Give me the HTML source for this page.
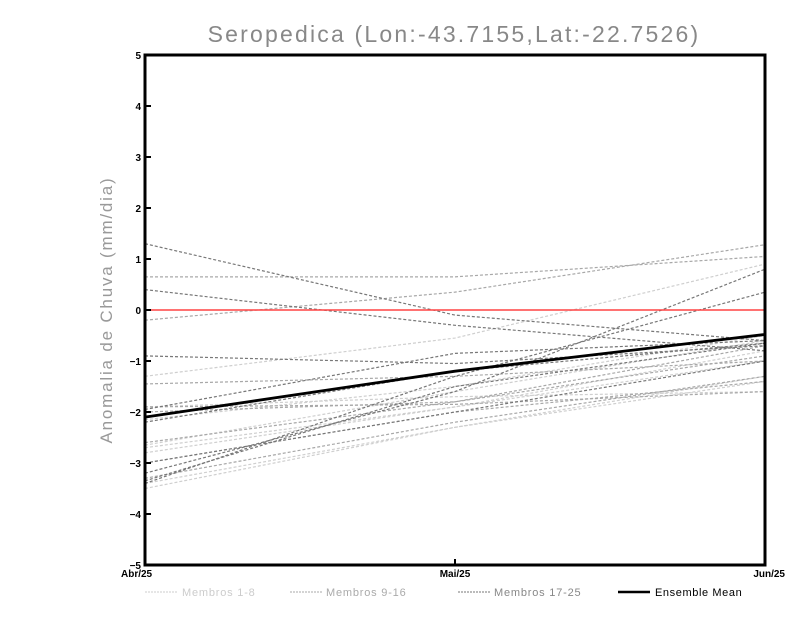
<!DOCTYPE html>
<html><head><meta charset="utf-8"><style>
body{margin:0;background:#fff;}
svg{display:block;font-family:"Liberation Sans",sans-serif;}
</style></head><body>
<svg id="chart" width="800" height="618" viewBox="0 0 800 618">
<text x="454" y="42" text-anchor="middle" font-size="23" fill="#888" letter-spacing="2.2" font-weight="300">Seropedica (Lon:-43.7155,Lat:-22.7526)</text>
<text transform="translate(112,310) rotate(-90)" text-anchor="middle" font-size="17" fill="#999" letter-spacing="1.8">Anomalia de Chuva (mm/dia)</text>
<g id="plot"></g>
<g id="legend">
 <line x1="145" y1="592" x2="178" y2="592" stroke="#ccc" stroke-dasharray="2,1"/>
 <text x="182" y="596" font-size="11" fill="#ccc" letter-spacing="0.8">Membros 1-8</text>
 <line x1="290" y1="592" x2="322" y2="592" stroke="#aaa" stroke-dasharray="2,1"/>
 <text x="326" y="596" font-size="11" fill="#aaa" letter-spacing="0.8">Membros 9-16</text>
 <line x1="458" y1="592" x2="490" y2="592" stroke="#777" stroke-dasharray="2,1"/>
 <text x="494" y="596" font-size="11" fill="#888" letter-spacing="0.8">Membros 17-25</text>
 <line x1="618" y1="592" x2="650" y2="592" stroke="#000" stroke-width="2.5"/>
 <text x="655" y="596" font-size="11" fill="#000" letter-spacing="0.6">Ensemble Mean</text>
</g>
</svg>
<script>
const categories = ["Abr/25","Mai/25","Jun/25"];
const yTicks = [-5,-4,-3,-2,-1,0,1,2,3,4,5];
const members1to8 = [[-1.3,-0.55,0.9],[-2.65,-1.6,-0.6],[-3.5,-2.3,-1.3],[-2.8,-1.9,-0.8],[-3.4,-2.3,-1.4],[-1.9,-1.7,-1.6],[-2.15,-1.5,-0.5],[-2.7,-1.9,-1.0]];
const members9to16 = [[0.65,0.65,1.05],[-0.2,0.35,1.28],[-1.45,-1.3,-1.0],[-1.9,-1.85,-1.6],[-2.0,-1.8,-0.7],[-3.0,-2.0,-1.4],[-3.3,-2.2,-1.3],[-2.6,-1.8,-0.9]];
const members17to25 = [[1.3,-0.1,-0.6],[0.4,-0.3,-0.8],[-0.9,-1.05,-0.7],[-1.95,-0.85,-0.6],[-3.2,-1.6,0.8],[-3.4,-1.3,0.35],[-3.35,-1.5,-0.65],[-3.0,-2.0,-1.0],[-2.2,-1.2,-0.65]];
const ensembleMean = [-2.1,-1.2,-0.48];

const L=145,R=765,T=55,B=565,NS="http://www.w3.org/2000/svg";
const xs=i=>L+(R-L)*i/(categories.length-1);
const ys=v=>T+(5-v)*(B-T)/10;
const plot=document.getElementById('plot');
function mk(tag,attrs){const e=document.createElementNS(NS,tag);for(const k in attrs)e.setAttribute(k,attrs[k]);plot.appendChild(e);return e;}
function series(arr,color,w,dash,name){
  const pts=arr.map((v,i)=>xs(i)+","+ys(v)).join(" ");
  const p=mk('polyline',{points:pts,fill:"none",stroke:color,"stroke-width":w});
  if(dash)p.setAttribute('stroke-dasharray',dash);
  
  
}
members1to8.forEach((m,i)=>series(m,"#cfcfcf",1.2,"3,2","member-"+(i+1)+"-line"));
members9to16.forEach((m,i)=>series(m,"#a8a8a8",1.2,"3,2","member-"+(i+9)+"-line"));
members17to25.forEach((m,i)=>series(m,"#777",1.2,"3,2","member-"+(i+17)+"-line"));
const z=mk('line',{x1:L,x2:R,y1:ys(0),y2:ys(0),stroke:"#f44",
 "stroke-width":1.5});


series(ensembleMean,"#000",2.8,null,"ensemble-mean-line");
const frame=mk('rect',{x:L,y:T,width:R-L,height:B-T,fill:"none",stroke:"#000","stroke-width":3});


yTicks.forEach(v=>{
  const t=mk('line',{x1:L,x2:L+6,y1:ys(v),y2:ys(v),stroke:"#000","stroke-width":2});
  
  
  const tx=mk('text',{x:L-4,y:ys(v)+4,"text-anchor":"end","font-size":"10","font-weight":"bold"});
  tx.textContent=(v<0?"−":"")+Math.abs(v);
  
  
});
categories.forEach((c,i)=>{
  const t=mk('line',{x1:xs(i),x2:xs(i),y1:B,y2:B-6,stroke:"#000","stroke-width":2});
  
  
  const tx=mk('text',{x:i==0?L-24:(i==categories.length-1?R+20:xs(i)),y:B+12,"text-anchor":i==0?"start":(i==categories.length-1?"end":"middle"),"font-size":"10","font-weight":"bold"});
  tx.textContent=c;
  
  
});
</script>
</body></html>
